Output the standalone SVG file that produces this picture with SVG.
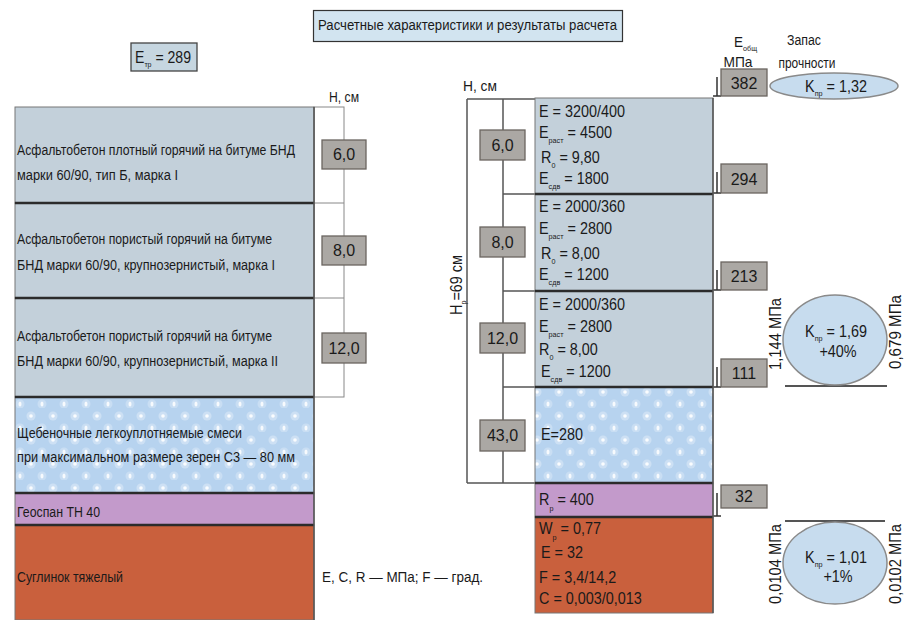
<svg xmlns="http://www.w3.org/2000/svg" width="904" height="620" viewBox="0 0 904 620">
<style>
text{font-family:"Liberation Sans",Arial,sans-serif;fill:#1a1a1a}
.lt{font-size:14px}
.rt{font-size:16px}
.bx{font-size:16px;text-anchor:middle}
.sub{font-size:8px}
.asph{fill:#c3d0da;stroke:#777;stroke-width:1}
.grav{fill:url(#grv);stroke:#777;stroke-width:1}
.geo{fill:#c39acb;stroke:#777;stroke-width:1}
.soil{fill:#c9603d;stroke:#777;stroke-width:1}
.div{stroke:#2b2b2b;stroke-width:2.5;fill:none}
.gb{fill:#aba8a4;stroke:#6a6560;stroke-width:1.3}
.ell{fill:#c7dcee;stroke:#8a8a8a;stroke-width:1.5}
.ln{stroke:#555;stroke-width:1.5;fill:none}
.tk{stroke:#333;stroke-width:1.5;fill:none}
</style>
<defs>
<pattern id="grv" width="22" height="24" patternUnits="userSpaceOnUse" x="3" y="0">
<rect width="22" height="24" fill="#b7d3ef"/>
<circle cx="6" cy="8" r="4.5" fill="#fff" opacity=".3"/>
<circle cx="6" cy="8" r="1.8" fill="#fff" opacity=".9"/>
<circle cx="17" cy="20" r="4.5" fill="#fff" opacity=".25"/>
<ellipse cx="17" cy="20" rx="1.5" ry="2.5" fill="#fff" opacity=".85"/>
</pattern>
</defs>
<rect width="904" height="620" fill="#fff"/>

<g id="title">
<rect x="313.5" y="10.5" width="309" height="31" fill="#d2e4f0" stroke="#333" stroke-width="1.2"/>
<text x="318" y="30" font-size="14" textLength="299" lengthAdjust="spacingAndGlyphs">Расчетные характеристики и результаты расчета</text>
</g>

<g id="etr">
<rect x="131" y="43" width="66" height="28" fill="#c6d6e0" stroke="#444" stroke-width="1.3"/>
<text transform="translate(135 63) scale(0.88 1)" class="rt">E<tspan class="sub" dy="4">тр</tspan><tspan dy="-4"> = 289</tspan></text>
</g>

<!-- Left column -->
<g id="left-h">
<text x="329" y="102" font-size="14" textLength="30" lengthAdjust="spacingAndGlyphs">H, см</text>
<rect x="314" y="107" width="30" height="290" fill="#fff" stroke="#888"/>
<path d="M314 203H344M314 298H344" stroke="#888" stroke-width="1"/>
</g>
<g id="left-layer1">
<rect x="15" y="107" width="299" height="96" class="asph"/>
<text x="17" y="155" class="lt" textLength="278" lengthAdjust="spacingAndGlyphs">Асфальтобетон плотный горячий на битуме БНД</text>
<text x="17" y="180" class="lt" textLength="161" lengthAdjust="spacingAndGlyphs">марки 60/90, тип Б, марка I</text>
</g>
<g id="left-layer2">
<rect x="15" y="203" width="299" height="95" class="asph"/>
<text x="17" y="244" class="lt" textLength="255" lengthAdjust="spacingAndGlyphs">Асфальтобетон пористый горячий на битуме</text>
<text x="17" y="270" class="lt" textLength="258" lengthAdjust="spacingAndGlyphs">БНД марки 60/90, крупнозернистый, марка I</text>
</g>
<g id="left-layer3">
<rect x="15" y="298" width="299" height="99" class="asph"/>
<text x="17" y="341" class="lt" textLength="255" lengthAdjust="spacingAndGlyphs">Асфальтобетон пористый горячий на битуме</text>
<text x="17" y="366" class="lt" textLength="261" lengthAdjust="spacingAndGlyphs">БНД марки 60/90, крупнозернистый, марка II</text>
</g>
<g id="left-gravel">
<rect x="15" y="397" width="299" height="96" class="grav"/>
<text x="17" y="438" class="lt" textLength="225" lengthAdjust="spacingAndGlyphs">Щебеночные легкоуплотняемые смеси</text>
<text x="17" y="462" class="lt" textLength="278" lengthAdjust="spacingAndGlyphs">при максимальном размере зерен С3 — 80 мм</text>
</g>
<g id="left-geospan">
<rect x="15" y="493" width="299" height="32" class="geo"/>
<text x="17" y="517" class="lt" textLength="83" lengthAdjust="spacingAndGlyphs">Геоспан ТН 40</text>
</g>
<g id="left-soil">
<rect x="15" y="525" width="299" height="95" class="soil"/>
<text x="17" y="582" class="lt" textLength="106" lengthAdjust="spacingAndGlyphs">Суглинок тяжелый</text>
</g>
<path class="div" d="M15 203H314M15 298H314M15 397H314M15 493H314M15 525H314"/>
<path d="M314 107V620" stroke="#555" stroke-width="1.5"/>

<g id="lh6"><rect x="322" y="140" width="44" height="29" class="gb"/><text x="344" y="160" class="bx">6,0</text></g>
<g id="lh8"><rect x="322" y="236" width="44" height="29" class="gb"/><text x="344" y="256" class="bx">8,0</text></g>
<g id="lh12"><rect x="322" y="333" width="44" height="30" class="gb"/><text x="344" y="354" class="bx">12,0</text></g>

<g id="units">
<text x="322" y="582" font-size="14" textLength="161" lengthAdjust="spacingAndGlyphs">E, C, R  —  МПа; F — град.</text>
</g>

<!-- Right column -->
<g id="connectors">
<path class="ln" d="M467 99V483M467 99H535M467 483H535M503 99V483M503 194H535M503 291H535M503 387H535"/>
<path class="tk" d="M717 77V96M713 96H721M717 172V193M713 193H721M717 270V290M713 290H721M717 367V387M713 387H721M717 493V516M713 516H721"/>
<path d="M785 386H887M785 521H885" stroke="#555" stroke-width="2"/>
</g>

<g id="right-h">
<text x="463" y="91" font-size="14" textLength="34" lengthAdjust="spacingAndGlyphs">H, см</text>
<text transform="translate(462 285) rotate(-90) scale(0.9 1)" font-size="16" text-anchor="middle">H<tspan class="sub" dy="4">р</tspan><tspan dy="-4">=69 см</tspan></text>
</g>

<g id="right-layer1">
<rect x="535" y="98" width="178" height="96" class="asph"/>
<text transform="translate(539 117) scale(0.9 1)" class="rt">E  = 3200/400</text>
<text transform="translate(539 138) scale(0.9 1)" class="rt">E<tspan class="sub" dy="5">раст</tspan><tspan dy="-5"> = 4500</tspan></text>
<text transform="translate(541 163) scale(0.9 1)" class="rt">R<tspan class="sub" dy="5">0</tspan><tspan dy="-5"> = 9,80</tspan></text>
<text transform="translate(539 184) scale(0.9 1)" class="rt">E<tspan class="sub" dy="5">сдв</tspan><tspan dy="-5"> = 1800</tspan></text>
</g>
<g id="right-layer2">
<rect x="535" y="194" width="178" height="97" class="asph"/>
<text transform="translate(539 212) scale(0.9 1)" class="rt">E = 2000/360</text>
<text transform="translate(539 234) scale(0.9 1)" class="rt">E<tspan class="sub" dy="5">раст</tspan><tspan dy="-5"> = 2800</tspan></text>
<text transform="translate(541 259) scale(0.9 1)" class="rt">R<tspan class="sub" dy="5">0</tspan><tspan dy="-5"> = 8,00</tspan></text>
<text transform="translate(539 280) scale(0.9 1)" class="rt">E<tspan class="sub" dy="5">сдв</tspan><tspan dy="-5"> = 1200</tspan></text>
</g>
<g id="right-layer3">
<rect x="535" y="291" width="178" height="96" class="asph"/>
<text transform="translate(539 310) scale(0.9 1)" class="rt">E = 2000/360</text>
<text transform="translate(539 332) scale(0.9 1)" class="rt">E<tspan class="sub" dy="5">раст</tspan><tspan dy="-5"> = 2800</tspan></text>
<text transform="translate(539 355) scale(0.9 1)" class="rt">R<tspan class="sub" dy="5">0</tspan><tspan dy="-5"> = 8,00</tspan></text>
<text transform="translate(541 377) scale(0.9 1)" class="rt">E<tspan class="sub" dy="5">сдв</tspan><tspan dy="-5"> = 1200</tspan></text>
</g>
<g id="right-gravel">
<rect x="535" y="387" width="178" height="96" class="grav"/>
<text transform="translate(541 440) scale(0.9 1)" class="rt">E=280</text>
</g>
<g id="right-geospan">
<rect x="535" y="483" width="178" height="34" class="geo"/>
<text transform="translate(539 505) scale(0.9 1)" class="rt">R<tspan class="sub" dy="6">р</tspan><tspan dy="-6"> = 400</tspan></text>
</g>
<g id="right-soil">
<rect x="535" y="517" width="178" height="96" class="soil"/>
<text transform="translate(539 534) scale(0.9 1)" class="rt">W<tspan class="sub" dy="6">р</tspan><tspan dy="-6"> = 0,77</tspan></text>
<text transform="translate(541 558) scale(0.9 1)" class="rt">E = 32</text>
<text transform="translate(539 583) scale(0.9 1)" class="rt">F = 3,4/14,2</text>
<text transform="translate(539 604) scale(0.9 1)" class="rt">C = 0,003/0,013</text>
</g>
<path class="div" d="M535 194H713M535 291H713M535 387H713M535 483H713M535 517H713"/>
<path d="M713 98V613" stroke="#555" stroke-width="1.5"/>

<g id="rh6"><rect x="480" y="130" width="45" height="30" class="gb"/><text x="502.5" y="151" class="bx">6,0</text></g>
<g id="rh8"><rect x="480" y="227" width="45" height="30" class="gb"/><text x="502.5" y="248" class="bx">8,0</text></g>
<g id="rh12"><rect x="480" y="323" width="45" height="30" class="gb"/><text x="502.5" y="344" class="bx">12,0</text></g>
<g id="rh43"><rect x="480" y="420" width="45" height="31" class="gb"/><text x="502.5" y="441" class="bx">43,0</text></g>

<g id="eobsh-head">
<text transform="translate(734 47) scale(0.9 1)" font-size="15">E<tspan class="sub" dy="4">общ</tspan></text>
<text x="738" y="67" font-size="15" text-anchor="middle" textLength="29" lengthAdjust="spacingAndGlyphs">МПа</text>
</g>
<g id="zapas-head">
<text x="804" y="45" font-size="14" text-anchor="middle" textLength="34" lengthAdjust="spacingAndGlyphs">Запас</text>
<text x="807" y="68" font-size="14" text-anchor="middle" textLength="57" lengthAdjust="spacingAndGlyphs">прочности</text>
</g>

<g id="e382"><rect x="721" y="69" width="46" height="27" class="gb"/><text x="744" y="89" class="bx">382</text></g>
<g id="e294"><rect x="721" y="164" width="46" height="29" class="gb"/><text x="744" y="185" class="bx">294</text></g>
<g id="e213"><rect x="721" y="262" width="46" height="28" class="gb"/><text x="744" y="282" class="bx">213</text></g>
<g id="e111"><rect x="721" y="359" width="46" height="28" class="gb"/><text x="744" y="379" class="bx">111</text></g>
<g id="e32"><rect x="721" y="485" width="46" height="23" class="gb"/><text x="744" y="502" class="bx">32</text></g>

<g id="k132">
<ellipse cx="834" cy="86" rx="64" ry="13" class="ell"/>
<text transform="translate(836 92) scale(0.9 1)" class="bx">K<tspan class="sub" dy="4">пр</tspan><tspan dy="-4"> = 1,32</tspan></text>
</g>
<g id="k169">
<ellipse cx="835" cy="340" rx="52" ry="45" class="ell"/>
<text transform="translate(836 337) scale(0.9 1)" class="bx">K<tspan class="sub" dy="4">пр</tspan><tspan dy="-4"> = 1,69</tspan></text>
<text transform="translate(838 357) scale(0.9 1)" class="bx">+40%</text>
<text transform="translate(781 334) rotate(-90)" font-size="16" text-anchor="middle" textLength="72" lengthAdjust="spacingAndGlyphs">1,144 МПа</text>
<text transform="translate(901 332) rotate(-90)" font-size="16" text-anchor="middle" textLength="74" lengthAdjust="spacingAndGlyphs">0,679 МПа</text>
</g>
<g id="k101">
<ellipse cx="835" cy="563" rx="52" ry="41" class="ell"/>
<text transform="translate(836 563) scale(0.9 1)" class="bx">K<tspan class="sub" dy="4">пр</tspan><tspan dy="-4"> = 1,01</tspan></text>
<text transform="translate(838 582) scale(0.9 1)" class="bx">+1%</text>
<text transform="translate(781 564) rotate(-90)" font-size="16" text-anchor="middle" textLength="80" lengthAdjust="spacingAndGlyphs">0,0104 МПа</text>
<text transform="translate(901 564) rotate(-90)" font-size="16" text-anchor="middle" textLength="80" lengthAdjust="spacingAndGlyphs">0,0102 МПа</text>
</g>
</svg>
